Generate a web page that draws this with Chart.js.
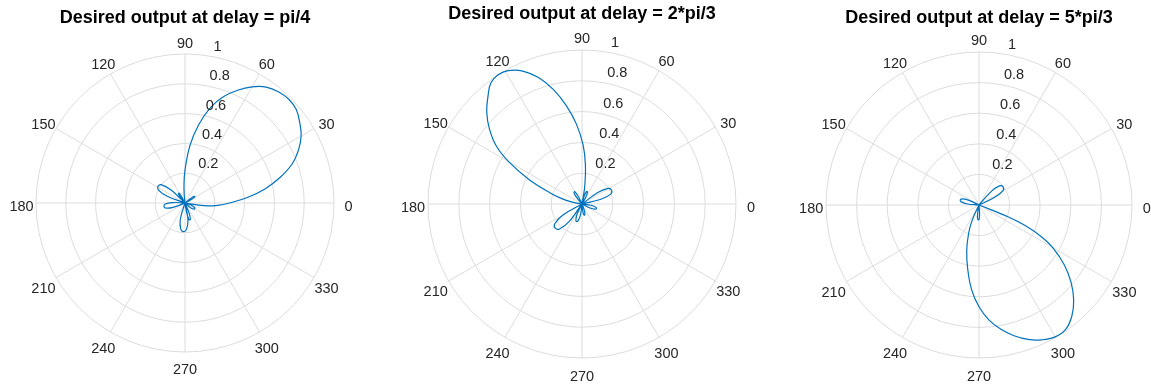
<!DOCTYPE html>
<html>
<head>
<meta charset="utf-8">
<title>Desired output at delay</title>
<script src="https://cdn.jsdelivr.net/npm/chart.js@4.4.1/dist/chart.umd.min.js"></script>
<style>
  html, body { margin: 0; padding: 0; background: #ffffff; }
  body { position: relative; width: 1151px; height: 387px; overflow: hidden; }
  canvas { position: absolute; top: 0; }
</style>
</head>
<body>
<canvas id="plot1" width="410" height="390" style="left:-20px;width:410px;height:390px"></canvas>
<canvas id="plot2" width="410" height="390" style="left:377px;width:410px;height:390px"></canvas>
<canvas id="plot3" width="410" height="390" style="left:774px;width:410px;height:390px"></canvas>
<script>
// Angular ticks (degrees, counter-clockwise from east) and radial ticks
const angleTicks = [0, 30, 60, 90, 120, 150, 180, 210, 240, 270, 300, 330];
const radialTicks = [0.2, 0.4, 0.6, 0.8, 1];

const titles = [
  'Desired output at delay = pi/4',
  'Desired output at delay = 2*pi/3',
  'Desired output at delay = 5*pi/3'
];

// Response samples: angle in degrees, signed amplitude (negative lobes plot through the origin)
const theta1 = [348, 352, 356, 0, 5, 10, 15, 20, 25, 30, 35, 40, 45, 50, 55, 60, 65, 70, 75, 80,
                85, 90, 94, 97, 100, 103, 106, 109, 112, 115, 118, 120, 123, 126, 128, 131, 137, 142, 148, 154,
                159, 165, 172, 178, 183, 189, 195, 200, 206, 209, 211, 214, 217, 219, 222, 248, 254, 261, 267, 273,
                280, 286, 314, 319, 325, 330, 335, 341, 346];
const rho1 = [0, 0.13, 0.22, 0.30, 0.42, 0.545, 0.66, 0.765, 0.84, 0.90, 0.94, 0.975, 0.985, 0.975, 0.95, 0.90, 0.835, 0.76, 0.665, 0.535,
              0.39, 0.22, 0.10, 0, -0.071, -0.11, -0.118, -0.11, -0.071, 0, 0.047, 0.073, 0.078, 0.073, 0.047, 0, 0.128, 0.198, 0.213, 0.198,
              0.128, 0, 0, 0.086, 0.133, 0.143, 0.133, 0.086, 0, -0.047, -0.073, -0.079, -0.073, -0.047, 0, 0, 0.115, 0.179, 0.192, 0.179,
              0.115, 0, 0, 0.046, 0.071, 0.076, 0.071, 0.046, 0];

const theta2 = [8, 14, 19, 25, 31, 36, 42, 58, 61, 65, 68, 71, 75, 78, 81, 85, 89, 94, 99, 104,
                109, 114, 119, 123, 127, 131, 136, 141, 146, 150, 155, 161, 165, 169, 172, 204, 210, 216, 222, 228,
                234, 240, 244, 249, 253, 257, 262, 266, 272, 276, 279, 283, 286, 290, 293, 296, 299, 302, 306, 309,
                312, 330, 334, 339, 343, 347, 352, 356];
const rho2 = [0, 0.127, 0.197, 0.212, 0.197, 0.127, 0, 0, 0.053, 0.083, 0.089, 0.083, 0.053, 0, 0.11, 0.255, 0.385, 0.52, 0.645, 0.765,
              0.868, 0.945, 0.99, 1.0, 0.984, 0.93, 0.86, 0.773, 0.67, 0.55, 0.385, 0.215, 0.14, 0.07, 0, 0, 0.14, 0.218, 0.234, 0.218,
              0.14, 0, 0.071, 0.111, 0.119, 0.111, 0.071, 0, 0, 0.044, 0.069, 0.074, 0.069, 0.044, 0, -0.056, -0.087, -0.094, -0.087, -0.056,
              0, 0, 0.059, 0.092, 0.099, 0.092, 0.059, 0];

const theta3 = [20, 26, 31, 37, 43, 48, 54, 78, 81, 84, 88, 91, 94, 97, 150, 155, 160, 165, 170, 175,
                180, 243, 246, 250, 255, 260, 265, 270, 275, 280, 285, 290, 295, 300, 305, 310, 315, 320, 325, 330,
                333, 336, 338, 340];
const rho3 = [0, 0.118, 0.183, 0.197, 0.183, 0.118, 0, 0, -0.058, -0.09, -0.097, -0.09, -0.058, 0, 0, 0.076, 0.118, 0.127, 0.118, 0.076,
              0, 0, 0.11, 0.2, 0.31, 0.425, 0.555, 0.665, 0.755, 0.825, 0.885, 0.935, 0.972, 0.995, 0.99, 0.945, 0.875, 0.785, 0.68, 0.555,
              0.46, 0.33, 0.2, 0];

// ---- styling ----
const FONT = "'Liberation Sans', Arial, Helvetica, sans-serif";
const GRID = '#dcdcdc';
const TEXT = '#262626';
const LINE = '#0072bd';

// one radar slot per degree; slot 0 points up and slots run clockwise
const STEPS = 360;
function slotOf(angle) { return ((90 - angle) % 360 + 360) % 360; }
const labels = Array.from({ length: STEPS }, (_, i) => {
  const a = slotOf(i);
  return angleTicks.includes(a) ? String(a) : '';
});
function toSeries(theta, rho) {
  const out = new Array(STEPS).fill(null);
  theta.forEach((t, k) => { out[slotOf(t)] = rho[k]; });
  return out;
}

// angle labels around the rim and radial labels beside the 80 degree spoke
const polarLabels = {
  id: 'polarLabels',
  afterDatasetsDraw(chart) {
    const s = chart.scales.r;
    const ctx = chart.ctx;
    const R = s.drawingArea;
    ctx.save();
    ctx.font = '14.5px ' + FONT;
    ctx.fillStyle = TEXT;
    ctx.textBaseline = 'middle';

    ctx.textAlign = 'center';
    angleTicks.forEach(a => {
      const t = a * Math.PI / 180;
      const d = R * 1.097;
      ctx.fillText(String(a), s.xCenter + d * Math.cos(t), s.yCenter - d * Math.sin(t) + 4);
    });

    ctx.textAlign = 'left';
    const r80 = 80 * Math.PI / 180;
    radialTicks.forEach(v => {
      const d = s.getDistanceFromCenterForValue(v);
      const x = s.xCenter + d * Math.cos(r80) + 9.4 - 0.046 * d;
      const y = s.yCenter - d * Math.sin(r80) - 9.4;
      ctx.fillText(String(v), x, y);
    });
    ctx.restore();
  }
};

// title padding and bottom padding set the size and centre of each polar area
const layouts = [
  { id: 'plot1', title: { top: 7, bottom: 25 }, bottom: 38 },
  { id: 'plot2', title: { top: 3, bottom: 25 }, bottom: 32 },
  { id: 'plot3', title: { top: 7, bottom: 23 }, bottom: 32 }
];
const series = [[theta1, rho1], [theta2, rho2], [theta3, rho3]];

layouts.forEach((lay, k) => {
  new Chart(document.getElementById(lay.id), {
    type: 'radar',
    data: {
      labels: labels,
      datasets: [{
        data: toSeries(series[k][0], series[k][1]),
        borderColor: LINE,
        borderWidth: 1.2,
        pointRadius: 0,
        pointHoverRadius: 0,
        pointHitRadius: 0,
        fill: false,
        tension: 0.4,
        spanGaps: true
      }]
    },
    options: {
      responsive: false,
      animation: false,
      events: [],
      layout: { padding: { top: 0, left: 0, right: 0, bottom: lay.bottom } },
      plugins: {
        legend: { display: false },
        tooltip: { enabled: false },
        title: {
          display: true,
          text: titles[k],
          color: '#000000',
          font: { family: FONT, size: 18, weight: 'bold', lineHeight: '22px' },
          padding: lay.title
        }
      },
      scales: {
        r: {
          min: 0,
          max: 1,
          startAngle: 0,
          ticks: { display: false, stepSize: 0.2 },
          grid: { circular: true, color: GRID, lineWidth: 1 },
          angleLines: {
            display: true,
            color: GRID,
            lineWidth: (c) => (c.label ? 1 : 0)
          },
          pointLabels: { display: false }
        }
      }
    },
    plugins: [polarLabels]
  });
});
</script>
</body>
</html>
